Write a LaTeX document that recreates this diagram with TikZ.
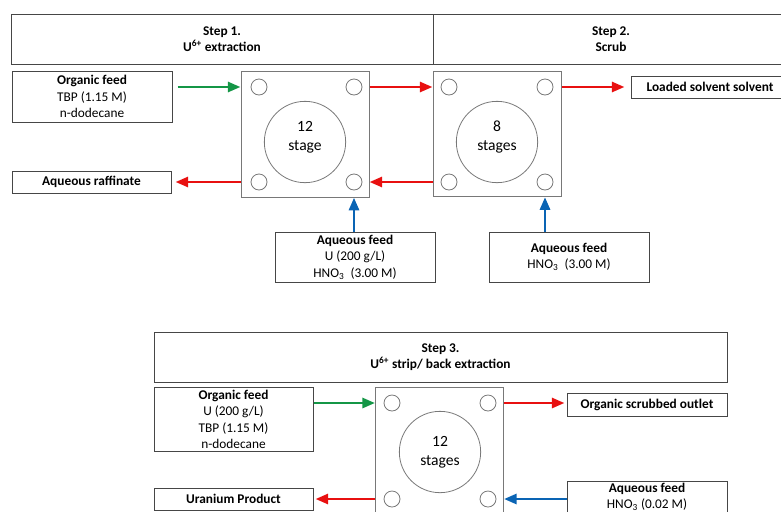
\documentclass[tikz,border=0pt]{standalone}
\usepackage{fontspec}
\setmainfont{Carlito}
\usetikzlibrary{arrows.meta}
\definecolor{boxgray}{RGB}{70,70,70}
\definecolor{stagegray}{RGB}{120,120,120}
\definecolor{flowgreen}{RGB}{20,150,70}
\definecolor{flowred}{RGB}{232,16,16}
\definecolor{flowblue}{RGB}{10,100,180}
\begin{document}
\begin{tikzpicture}[x=0.75pt,y=-0.75pt,
  box/.style={draw=boxgray, line width=0.75pt, inner sep=2pt, align=center, font=\fontsize{10}{12.4}\selectfont},
  stagebox/.style={draw=stagegray, line width=0.75pt, inner sep=0pt, minimum width=96pt, minimum height=94pt},
  port/.style={circle, draw=stagegray, line width=0.6pt, fill=white, minimum size=12pt, inner sep=0pt},
  bigc/.style={circle, draw=stagegray, line width=0.6pt, minimum size=61pt, inner sep=0pt, align=center, font=\fontsize{11.7}{14.25}\selectfont},
  hightext/.style={text depth=9pt},
  flow/.style={line width=2.1pt, -{Triangle[length=9.5pt,width=7.5pt]}}]
\clip (0,0) rectangle (781,511);

%Headers
\node[box, minimum width=316.5pt, minimum height=37.5pt] (h1) at (222,39) {\textbf{Step 1.}\\\textbf{U\textsuperscript{6+} extraction}};
\node[box, minimum width=267pt, minimum height=37.5pt] (h2) at (611,39) {\textbf{Step 2.}\\\textbf{Scrub}};

%Step 1
\node[stagebox] (s1) at (305,134.5) {};
\node[port] (c1a) at (259,87) {};
\node[port] (c1b) at (354,87) {};
\node[port] (c1c) at (259,182) {};
\node[port] (c1d) at (354,182) {};
\node[bigc, hightext] (n1) at (305,142) {12\\stage};
\node[box, minimum width=120pt, minimum height=38.25pt] (of1) at (92,96.5) {\textbf{Organic feed}\\TBP (1.15 M)\\n-dodecane};
\node[box, minimum width=119.25pt, minimum height=16.5pt, inner sep=0pt] (raff) at (91.5,182) {\textbf{Aqueous raffinate}};
\node[box, minimum width=120pt, minimum height=37.5pt] (aq1) at (355,257) {\textbf{Aqueous feed}\\U (200 g/L)\\HNO\textsubscript{3}~ (3.00 M)};

%Step 2
\node[stagebox] (s2) at (497,134) {};
\node[port] (c2a) at (449,87) {};
\node[port] (c2b) at (545,87) {};
\node[port] (c2c) at (449,182) {};
\node[port] (c2d) at (545,182) {};
\node[bigc, hightext] (n2) at (497,142) {8\\stages};
\node[box, minimum width=118.5pt, minimum height=16.5pt, inner sep=0pt] (loaded) at (710,87) {\textbf{Loaded solvent solvent}};
\node[box, minimum width=120pt, minimum height=37.5pt] (aq2) at (569,257) {\textbf{Aqueous feed}\\HNO\textsubscript{3}~ (3.00 M)};

\draw[flow, flowgreen, shorten <=3.75pt] (of1.east |- c1a) -- (s1.west |- c1a);
\draw[flow, flowred] (s1.east |- c1b) -- (s2.west |- c1b);
\draw[flow, flowred] (s2.west |- c2c) -- (s1.east |- c2c);
\draw[flow, flowred, shorten >=3pt] (s1.west |- c1c) -- (raff.east);
\draw[flow, flowred, shorten >=4.5pt] (s2.east |- c2b) -- (loaded.west |- c2b);
\draw[flow, flowblue] (c1d |- aq1.north) -- (c1d |- s1.south);
\draw[flow, flowblue] (c2d |- aq2.north) -- (c2d |- s2.south);

%Step 3
\node[box, minimum width=429.75pt, minimum height=37.5pt] (h3) at (440.5,357) {\textbf{Step 3.}\\\textbf{U\textsuperscript{6+} strip/ back extraction}};
\node[stagebox] (s3) at (439.5,450.5) {};
\node[port] (c3a) at (392,403) {};
\node[port] (c3b) at (488,403) {};
\node[port] (c3c) at (392,499) {};
\node[port] (c3d) at (488,499) {};
\node[bigc] (n3) at (440,452) {12\\stages};
\node[box, minimum width=119.25pt, minimum height=47.25pt] (of3) at (233.5,419.5) {\textbf{Organic feed}\\U (200 g/L)\\TBP (1.15 M)\\n-dodecane};
\node[box, minimum width=119.25pt, minimum height=16.5pt, inner sep=0pt] (uprod) at (233.5,499) {\textbf{Uranium Product}};
\node[box, minimum width=120pt, minimum height=17.25pt, inner sep=0pt] (outlet) at (647,404.5) {\textbf{Organic scrubbed outlet}};
\node[box, anchor=north, minimum width=120pt, inner ysep=1pt] (aq3) at (647,481) {\textbf{Aqueous feed}\\HNO\textsubscript{3} (0.02 M)\\[6pt]};

\draw[flow, flowgreen] (of3.east |- c3a) -- (s3.west |- c3a);
\draw[flow, flowred, shorten >=1.5pt] (s3.east |- c3b) -- (outlet.west |- c3b);
\draw[flow, flowred, shorten >=1.5pt] (s3.west |- c3c) -- (uprod.east |- c3c);
\draw[flow, flowblue] (aq3.west |- c3d) -- (s3.east |- c3d);
\end{tikzpicture}
\end{document}
